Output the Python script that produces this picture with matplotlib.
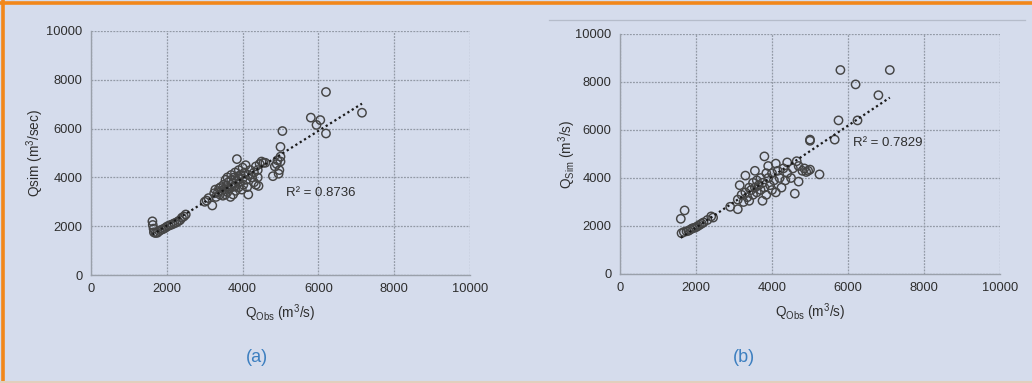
import matplotlib
matplotlib.use("Agg")
import matplotlib.pyplot as plt
from matplotlib.lines import Line2D
import numpy as np

plt.rcParams['font.family'] = ['Liberation Sans', 'DejaVu Sans']
plt.rcParams['mathtext.fontset'] = 'custom'
plt.rcParams['mathtext.rm'] = 'Liberation Sans'
plt.rcParams['mathtext.it'] = 'Liberation Sans'

# ---- data panel (a) ----
a_obs = [1620, 1630, 1650, 1660, 1700, 1750, 1800, 1850, 1900, 1950, 2000, 2050, 2100, 2150, 2200, 2250,
         2300, 2350, 2400, 2450, 2500,
         3000, 3050, 3100, 3200, 3250, 3280, 3300, 3350, 3380, 3400, 3420, 3450, 3480, 3500, 3520, 3550,
         3550, 3580, 3600, 3600, 3620, 3650, 3680, 3700, 3700, 3720, 3750, 3750, 3780, 3800, 3800, 3820,
         3850, 3850, 3880, 3900, 3900, 3920, 3950, 3980, 4000, 4000, 4020, 4050, 4080, 4100, 4120, 4150,
         4150, 4200, 4250, 4300, 4300, 4350, 4350, 4400, 4400, 4420, 4450, 4500, 4550, 4600,
         4800, 4850, 4900, 4920, 4950, 4970, 5000, 5000, 5000, 5050, 5800, 5950, 6050, 6200, 6200, 7150]
a_sim = [2200, 2050, 1900, 1750, 1720, 1730, 1800, 1850, 1880, 1920, 1980, 2020, 2050, 2080, 2120, 2150,
         2200, 2250, 2350, 2400, 2480,
         3000, 3050, 3150, 2850, 3350, 3500, 3200, 3400, 3550, 3300, 3600, 3450, 3250, 3700, 3500, 3900,
         3300, 3650, 4000, 3400, 3800, 3550, 3200, 3900, 4100, 3600, 3750, 3300, 4000, 3650, 4200, 3450,
         4750, 3850, 4050, 3600, 4300, 3800, 4100, 3500, 3950, 4400, 3700, 4200, 4500, 3900, 3600, 3300,
         4100, 4300, 4000, 3800, 4200, 4450, 3700, 4000, 4300, 3650, 4550, 4650, 4600, 4600,
         4050, 4450, 4550, 4700, 4150, 4300, 4650, 4850, 5250, 5900, 6450, 6150, 6350, 5800, 7500, 6650]

# ---- data panel (b) ----
b_obs = [1600, 1700, 1620, 1680, 1750, 1800, 1850, 1900, 1950, 2000, 2050, 2100, 2150, 2200, 2300, 2400, 2450,
         2900, 3100, 3100, 3150, 3200, 3250, 3300, 3300, 3350, 3400, 3400, 3450, 3500, 3500, 3550, 3550,
         3600, 3600, 3650, 3700, 3700, 3750, 3750, 3800, 3800, 3850, 3850, 3900, 3900, 3950, 4000, 4000,
         4050, 4100, 4100, 4150, 4200, 4250, 4300, 4350, 4400, 4400, 4500, 4550, 4600, 4650, 4700, 4700,
         4800, 4850, 4900, 4950, 5000, 5250,
         5000, 5000, 5650, 5750, 5800, 6200, 6250, 6800, 7100]
b_sim = [2300, 2650, 1700, 1750, 1780, 1800, 1850, 1900, 1920, 1950, 2000, 2050, 2100, 2150, 2250, 2400, 2350,
         2800, 2700, 3100, 3700, 3300, 3000, 4100, 3400, 3200, 3600, 3050, 3500, 3300, 3800, 4300, 3600,
         3400, 3900, 3700, 3500, 4000, 3050, 3800, 4900, 3600, 4200, 3300, 4000, 4500, 3700, 3500, 4200,
         3900, 4600, 3400, 4300, 4000, 3600, 4400, 3900, 4650, 4200, 4000, 4400, 3350, 4700, 3850, 4500,
         4300, 4400, 4250, 4300, 4350, 4150,
         5600, 5550, 5600, 6400, 8500, 7900, 6400, 7450, 8500]

ticks = [0, 2000, 4000, 6000, 8000, 10000]
r2_text = ["R² = 0.8736", "R² = 0.7829"]
r2_pos = [(5150, 3350), (6130, 5460)]
ylabels = ["Qsim (m$^3$/sec)", "Q$_{\\mathrm{Sim}}$ (m$^3$/s)"]
xlabel = "Q$_{\\mathrm{Obs}}$ (m$^3$/s)"
panel_labels = ["(a)", "(b)"]

BG = '#d5dcec'
TXT = '#2e2e2e'
fig = plt.figure(figsize=(10.32, 3.83), dpi=100, facecolor=BG)

rects = [[91/1032, 108/383, 379/1032, 244/383],
         [620/1032, 109/383, 380/1032, 240/383]]
datasets = [(a_obs, a_sim), (b_obs, b_sim)]
ylab_x = [35/1032, 567/1032]
lab_x = [257/1032, 744/1032]

for i, (rect, (xo, ys)) in enumerate(zip(rects, datasets)):
    ax = fig.add_axes(rect)
    ax.set_facecolor(BG)
    ax.set_xlim(0, 10000)
    ax.set_ylim(0, 10000)
    ax.set_xticks(ticks)
    ax.set_yticks(ticks)
    ax.grid(True, color='#939aa6', linestyle=(0, (1.5, 1.0)), linewidth=0.9)
    ax.set_axisbelow(True)
    for s in ['top', 'right']:
        ax.spines[s].set_visible(False)
    for s in ['left', 'bottom']:
        ax.spines[s].set_color('#9aa0aa')
        ax.spines[s].set_linewidth(1.0)
    ax.tick_params(length=0, labelsize=9.3, labelcolor=TXT, pad=6)
    xo = np.array(xo, float)
    ys = np.array(ys, float)
    ax.scatter(xo, ys, s=36, facecolors='none', edgecolors='#454545', linewidths=1.05, zorder=3)
    k, b = np.polyfit(xo, ys, 1)
    xx = np.array([xo.min(), xo.max()])
    ax.plot(xx, k * xx + b, color='#1a1a1a', linestyle=(0, (1, 1.3)), linewidth=1.6, zorder=4)
    ax.text(r2_pos[i][0], r2_pos[i][1], r2_text[i], fontsize=9.5, color=TXT, va='center', ha='left')
    ax.set_xlabel(xlabel, fontsize=9.8, color=TXT, labelpad=5)
    fig.text(ylab_x[i], rect[1] + rect[3] / 2, ylabels[i], rotation=90, fontsize=9.8,
             color=TXT, ha='center', va='center')
    fig.text(lab_x[i], 1 - 357/383, panel_labels[i], fontsize=13, color='#3d7fc0',
             ha='center', va='center')

# frame decorations
fig.add_artist(Line2D([0, 1], [1 - 2.5/383, 1 - 2.5/383], color='#f2871a', linewidth=2.6))
fig.add_artist(Line2D([2.5/1032, 2.5/1032], [0, 1], color='#f2871a', linewidth=2.6))
fig.add_artist(Line2D([0, 1], [1.5/383, 1.5/383], color='#e2cfbd', linewidth=1.5))
fig.add_artist(Line2D([549/1032, 1025/1032], [1 - 20/383, 1 - 20/383], color='#b5bcca', linewidth=0.9))

fig.savefig('out.png', dpi=100, facecolor=BG)
